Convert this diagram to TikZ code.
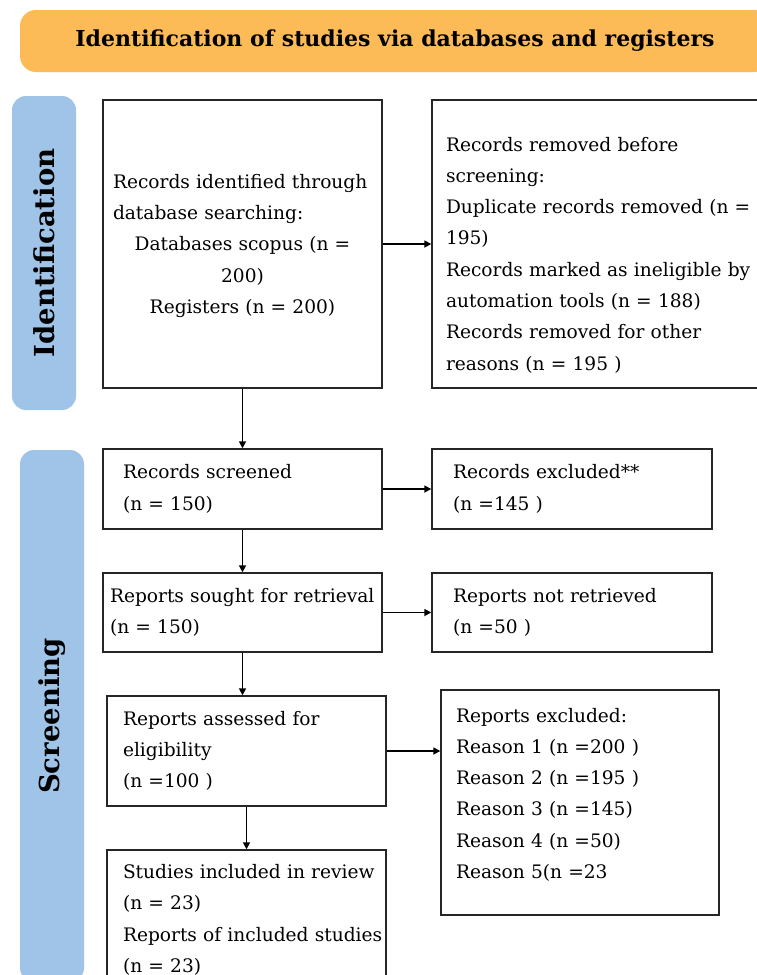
\documentclass[tikz,border=0pt]{standalone}
\usepackage{fontspec}
\setmainfont{DejaVu Serif}
\usetikzlibrary{arrows.meta}
\definecolor{headorange}{RGB}{253,187,88}
\definecolor{stageblue}{RGB}{159,196,231}

\begin{document}
\begin{tikzpicture}[x=1pt, y=-1pt,
    box/.style={draw=black!85, line width=1.4pt, align=left, inner ysep=0pt,
        font=\fontsize{18.6}{31.3}\selectfont},
    stage/.style={fill=stageblue, rounded corners=14pt, rotate=90,
        minimum height=64pt, font=\fontsize{27.5}{30}\selectfont\bfseries},
    arrow/.style={-{Triangle[length=7pt,width=7pt]}, line width=1.6pt}]
    \useasboundingbox (0,0) rectangle (757,975);
    \clip (0,0) rectangle (757,975);

    \node[fill=headorange, rounded corners=16pt, minimum width=750pt,
        minimum height=62pt, font=\fontsize{22}{26}\selectfont\bfseries]
        (title) at (395,41) {Identification of studies via databases and registers};
    \node[stage, minimum width=314pt] (ident) at (44,253) {Identification};
    \node[stage, minimum width=532pt] (screen) at (52,716) {Screening};

    \node[box, inner xsep=10pt, text width=259pt, minimum height=288pt, text height=18pt]
        (records_id) at (242.5,244) {\raggedright \mbox{Records identified through}\\database searching:\par
        {\centering Databases scopus (n =\\200)\\Registers (n = 200)\par}};
    \node[box, inner xsep=14pt, text width=310pt, minimum height=288pt, text height=36pt]
        (removed) at (601,244) {Records removed before\\screening:\\\mbox{Duplicate records removed (n =}\\195)\\\mbox{Records marked as ineligible by}\\automation tools (n = 188)\\Records removed for other\\reasons (n = 195 )};
    \node[box, inner xsep=20pt, text width=239pt, minimum height=80pt]
        (screened) at (242.5,489) {Records screened\\(n = 150)};
    \node[box, inner xsep=21pt, text width=238pt, minimum height=80pt]
        (excluded) at (572,489) {Records excluded**\\(n =145 )};
    \node[box, inner xsep=7pt, text width=265pt, minimum height=79pt]
        (sought) at (242.5,612.5) {\mbox{Reports sought for retrieval}\\(n = 150)};
    \node[box, inner xsep=21pt, text width=238pt, minimum height=79pt]
        (not_retrieved) at (572,612.5) {Reports not retrieved\\(n =50 )};
    \node[box, inner xsep=16pt, text width=247pt, minimum height=110pt]
        (assessed) at (246.5,751) {Reports assessed for\\eligibility\\(n =100 )};
    \node[box, inner xsep=15pt, text width=248pt, minimum height=225pt, text depth=175pt]
        (reports_excl) at (580,802.5) {Reports excluded:\\Reason 1 (n =200 )\\Reason 2 (n =195 )\\Reason 3 (n =145)\\Reason 4 (n =50)\\Reason 5(n =23};
    \node[box, inner xsep=16pt, text width=247pt, minimum height=140pt]
        (included) at (246.5,920) {\mbox{Studies included in review}\\(n = 23)\\\mbox{Reports of included studies}\\(n = 23)};

    \path[arrow]
        (records_id) edge (removed)
        (records_id) edge (screened)
        (screened) edge (excluded)
        (screened) edge (sought)
        (sought) edge (not_retrieved)
        (sought.south) edge (sought.south |- assessed.north)
        (assessed.east) edge (assessed.east -| reports_excl.west)
        (assessed) edge (included);
\end{tikzpicture}
\end{document}
